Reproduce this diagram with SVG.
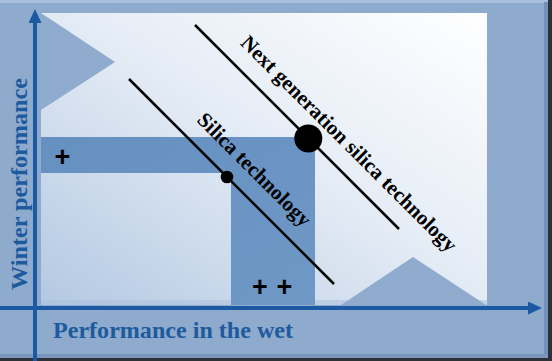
<svg xmlns="http://www.w3.org/2000/svg" width="552" height="361" viewBox="0 0 552 361">
  <defs>
    <linearGradient id="panelGrad" x1="1" y1="0" x2="0" y2="1">
      <stop offset="0" stop-color="#ffffff"/>
      <stop offset="0.45" stop-color="#e6edf6"/>
      <stop offset="1" stop-color="#b3c8e2"/>
    </linearGradient>
    <linearGradient id="bandGrad" x1="0" y1="0" x2="1" y2="1">
      <stop offset="0" stop-color="#6590c0"/>
      <stop offset="1" stop-color="#6f98c6"/>
    </linearGradient>
    <marker id="arrow" viewBox="0 0 14 13" refX="0" refY="6.5" markerWidth="14" markerHeight="13" markerUnits="userSpaceOnUse" orient="auto">
      <path d="M0,0 L14,6.5 L0,13 Z" fill="#1b5aa2"/>
    </marker>
    <style>
      .axis { stroke: #1b5aa2; stroke-width: 4; fill: none; }
      .tech { stroke: #000000; stroke-width: 2.5; fill: none; }
      .axisLabel { font-family: "Liberation Serif", "Times New Roman", serif; font-weight: bold; font-size: 24px; fill: #1d5a9e; }
      .techLabel { font-family: "Liberation Serif", "Times New Roman", serif; font-weight: bold; font-size: 21px; fill: #000000; }
      .plus { font-family: "Liberation Sans", Arial, sans-serif; font-weight: bold; font-size: 27px; fill: #000000; text-anchor: middle; }
    </style>
  </defs>

  <!-- frame -->
  <g id="frame">
    <rect x="0" y="0" width="552" height="361" fill="#2e3238"/>
    <rect x="0" y="0" width="548" height="358" fill="#8eaacc"/>
    <rect x="0" y="0" width="548" height="3" fill="#a9bfdb"/>
    <rect x="544" y="2" width="4" height="356" fill="#7290b8"/>
    <rect x="0" y="354" width="548" height="4" fill="#7a96bd"/>
  </g>

  <!-- panel -->
  <g id="panel">
    <rect x="41" y="13" width="446" height="292" fill="url(#panelGrad)"/>
    <rect x="41" y="300" width="446" height="5" fill="#a9bfdb" opacity="0.5"/>
    <polygon points="41,13 115,62 41,110" fill="#8fabcd"/>
    <polygon points="341,305 413,257 486,305" fill="#8fabcd"/>
  </g>

  <!-- bands -->
  <g id="bands">
    <path d="M41,137 H315 V305 H231 V173 H41 Z" fill="url(#bandGrad)"/>
  </g>

  <!-- axes -->
  <g id="axes">
    <line class="axis" x1="35" y1="361" x2="35" y2="23" marker-end="url(#arrow)"/>
    <line class="axis" x1="0" y1="308" x2="528" y2="308" marker-end="url(#arrow)"/>
  </g>

  <!-- connectors: technology lines -->
  <g id="connectors">
    <line class="tech" x1="129" y1="79" x2="334" y2="284"/>
    <line class="tech" x1="195" y1="25" x2="399" y2="229"/>
  </g>

  <g id="silica-point">
    <circle cx="227" cy="177" r="6.3" fill="#000000"/>
  </g>
  <g id="nextgen-point">
    <circle cx="308.3" cy="138.5" r="14" fill="#000000"/>
  </g>

  <g id="silica-label">
    <text class="techLabel" transform="translate(196,121) rotate(45)">Silica technology</text>
  </g>
  <g id="nextgen-label">
    <text class="techLabel" transform="translate(239.5,44) rotate(45)">Next generation silica technology</text>
  </g>

  <g id="plus-signs">
    <text class="plus" x="62.5" y="165.5">+</text>
    <text class="plus" x="260" y="295.5">+</text>
    <text class="plus" x="284.5" y="295.5">+</text>
  </g>

  <g id="axis-labels">
    <text class="axisLabel" transform="translate(27,290) rotate(-90)" textLength="212" lengthAdjust="spacingAndGlyphs">Winter performance</text>
    <text class="axisLabel" x="53" y="338" textLength="240" lengthAdjust="spacingAndGlyphs">Performance in the wet</text>
  </g>
</svg>
